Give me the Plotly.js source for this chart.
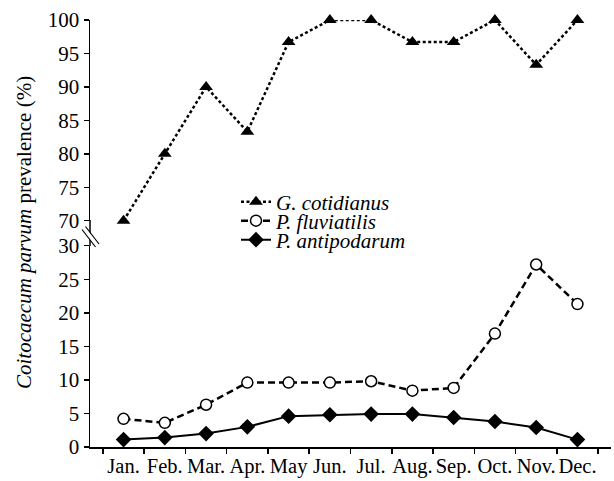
<!DOCTYPE html>
<html>
<head>
<meta charset="utf-8">
<script src="https://cdn.plot.ly/plotly-3.0.1.min.js"></script>
<style>html,body{margin:0;padding:0;background:#fff;}#chart{width:614px;height:481px;}</style>
</head>
<body>
<div id="chart"></div>
<script>
var months = ["Jan.", "Feb.", "Mar.", "Apr.", "May", "Jun.", "Jul.", "Aug.", "Sep.", "Oct.", "Nov.", "Dec."];
var gCotidianus = [70, 80, 90, 83.3, 96.7, 100, 100, 96.7, 96.7, 100, 93.3, 100];
var pFluviatilis = [4.2, 3.6, 6.3, 9.6, 9.6, 9.6, 9.8, 8.4, 8.8, 16.9, 27.2, 21.3];
var pAntipodarum = [1.1, 1.4, 2.0, 3.0, 4.6, 4.8, 4.9, 4.9, 4.4, 3.8, 2.9, 1.1];

var FONT = "'Liberation Serif', 'Times New Roman', serif";
var W = 614, H = 481, L = 90, R = 3, T = 20, B = 34;
var pw = W - L - R, ph = H - T - B;
function px(x) { return (x - L) / pw; }
function py(y) { return (H - B - y) / ph; }

var traces = [
  {x: months, y: gCotidianus, yaxis: "y2", name: "<i>G. cotidianus</i>", legend: "legend",
   mode: "lines+markers", cliponaxis: false,
   line: {color: "#000", width: 2.5, dash: "3px,2.5px"},
   marker: {symbol: "triangle-up", size: 12, color: "#000"}},
  {x: months, y: pFluviatilis, name: "<i>P. fluviatilis</i>", legend: "legend2",
   mode: "lines+markers", cliponaxis: false,
   line: {color: "#000", width: 2.5, dash: "7px,4px"},
   marker: {symbol: "circle", size: 11, color: "#fff", line: {color: "#000", width: 1.5}}},
  {x: months, y: pAntipodarum, name: "<i>P. antipodarum</i>", legend: "legend3",
   mode: "lines+markers", cliponaxis: false,
   line: {color: "#000", width: 2},
   marker: {symbol: "diamond", size: 12, color: "#000"}}
];

var legBase = {xref: "paper", yref: "paper", xanchor: "left", yanchor: "middle",
  bgcolor: "rgba(0,0,0,0)", font: {family: FONT, size: 21, color: "#000"}, itemwidth: 30};
function leg(yy) { return Object.assign({}, legBase, {x: px(236), y: py(yy)}); }

var axisCommon = {ticks: "outside", ticklen: 5, tickwidth: 1.5, tickcolor: "#000", showline: true,
  linecolor: "#000", linewidth: 1.5, showgrid: false, zeroline: false,
  tickfont: {family: FONT, size: 21, color: "#000"}};

var layout = {
  width: W, height: H,
  margin: {l: L, r: R, t: T, b: B},
  paper_bgcolor: "#fff", plot_bgcolor: "#fff",
  font: {family: FONT, size: 21, color: "#000"},
  showlegend: true,
  legend: leg(202), legend2: leg(221), legend3: leg(240),
  xaxis: Object.assign({}, axisCommon, {type: "category", anchor: "y", tickson: "boundaries", tickangle: 0,
    tickfont: {family: FONT, size: 20.5, color: "#000"}}),
  yaxis: Object.assign({}, axisCommon, {domain: [0, py(245.7)], range: [0, 30], dtick: 5, anchor: "x"}),
  yaxis2: Object.assign({}, axisCommon, {domain: [py(220.7), 1], range: [70, 100], dtick: 5, anchor: "x"}),
  annotations: [{
    xref: "paper", yref: "paper", x: px(24), y: py(233), xanchor: "center", yanchor: "middle",
    textangle: -90, showarrow: false,
    text: "<i>Coitocaecum parvum</i> prevalence (%)",
    font: {family: FONT, size: 21, color: "#000"}
  }],
  shapes: [
    {type: "line", xref: "paper", yref: "paper", x0: 0, x1: 0, y0: py(246), y1: py(220), line: {color: "#000", width: 1.5}, layer: "above"},
    {type: "line", xref: "paper", yref: "paper", x0: px(83.5), y0: py(228), x1: px(97.5), y1: py(246), line: {color: "#fff", width: 4}, layer: "above"},
    {type: "line", xref: "paper", yref: "paper", x0: px(82), y0: py(229.5), x1: px(95.5), y1: py(247), line: {color: "#000", width: 1.2}, layer: "above"},
    {type: "line", xref: "paper", yref: "paper", x0: px(85.5), y0: py(226.5), x1: px(99), y1: py(244), line: {color: "#000", width: 1.2}, layer: "above"}
  ]
};

Plotly.newPlot("chart", traces, layout, {displayModeBar: false, staticPlot: true});
</script>
</body>
</html>
